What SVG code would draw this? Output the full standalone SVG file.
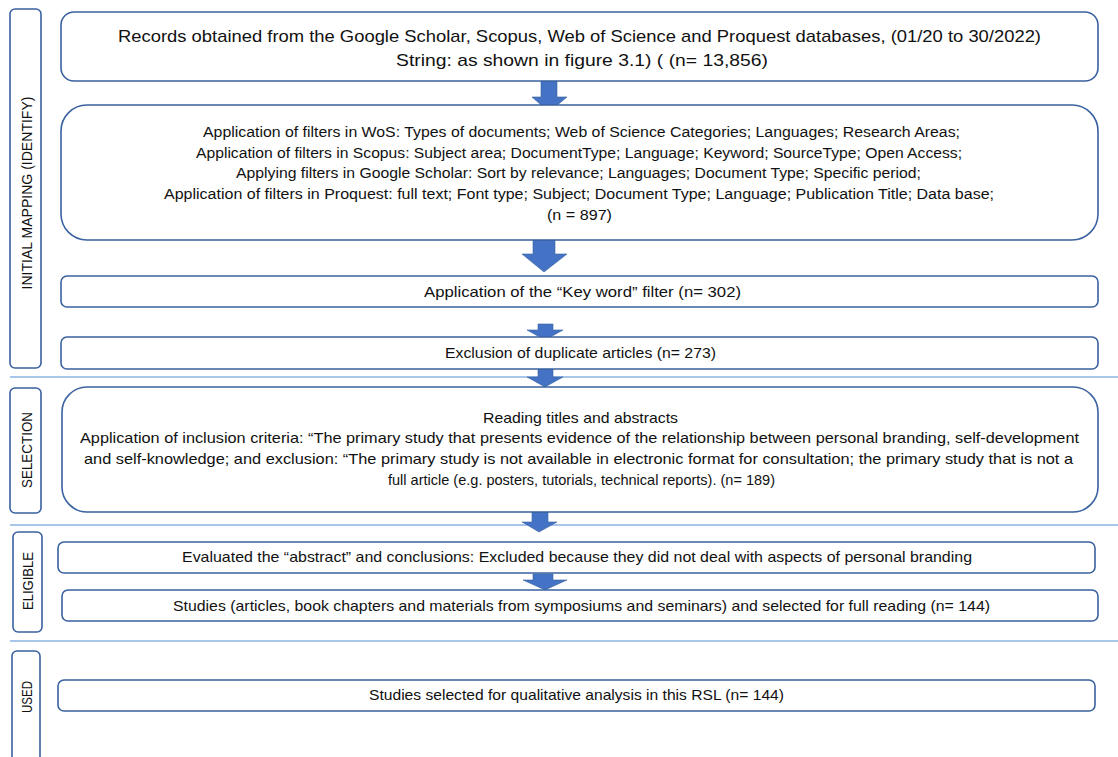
<svg xmlns="http://www.w3.org/2000/svg" width="1118" height="757" viewBox="0 0 1118 757">
<style>
.box{fill:#fff;stroke:#3A62A0;stroke-width:1.6}
.lab{fill:#fff;stroke:#3A62A0;stroke-width:1.6}
.sep{stroke:#8DB3E2;stroke-width:1.6}
.arr{fill:#4472C4;stroke:#3A62A0;stroke-width:0.6}
text{font-family:"Liberation Sans",Arial,sans-serif;fill:#111;text-anchor:middle}
.t1{font-size:17px}
.t2{font-size:13.8px}
.t3{font-size:14.2px}
.tl{font-size:15px}
</style>
<g id="separators">
<line class="sep" x1="10" y1="377" x2="1118" y2="377"/>
<line class="sep" x1="10" y1="525" x2="1118" y2="525"/>
<line class="sep" x1="10" y1="641" x2="1118" y2="641"/>
</g>
<g id="stage-initial">
<rect class="lab" x="10" y="9" width="31" height="359" rx="5"/>
<text class="tl" transform="translate(31.5,193) rotate(-90)" textLength="193" lengthAdjust="spacingAndGlyphs">INITIAL MAPPING (IDENTIFY)</text>
</g>
<g id="stage-selection">
<rect class="lab" x="10" y="388" width="31" height="125" rx="5"/>
<text class="tl" transform="translate(31.5,450) rotate(-90)" textLength="76" lengthAdjust="spacingAndGlyphs">SELECTION</text>
</g>
<g id="stage-eligible">
<rect class="lab" x="13" y="532" width="29" height="100" rx="5"/>
<text class="tl" transform="translate(33,581) rotate(-90)" textLength="58" lengthAdjust="spacingAndGlyphs">ELIGIBLE</text>
</g>
<g id="stage-used">
<rect class="lab" x="12" y="651" width="28" height="115" rx="5"/>
<text class="tl" transform="translate(32,697) rotate(-90)" textLength="32" lengthAdjust="spacingAndGlyphs">USED</text>
</g>
<g id="connectors">
<polygon class="arr" points="541,81 557,81 557,97 567,97 549,112 532,97 541,97"/>
<polygon class="arr" points="533,240 555,240 555,254 567,254 544,272 522,254 533,254"/>
<polygon class="arr" points="538,324 553,324 553,330 563,330 545,340 527,330 538,330"/>
<polygon class="arr" points="538,369 553,369 553,377 563,377 545,387 527,377 538,377"/>
<polygon class="arr" points="532,512 548,512 548,522 557,522 539,532 522,522 532,522"/>
<polygon class="arr" points="533,574 553,574 553,580 567,580 545,590 523,580 533,580"/>
</g>
<g id="node-records">
<rect class="box" x="61" y="12" width="1037" height="69" rx="13"/>
<text class="t1" x="579.5" y="42" textLength="923" lengthAdjust="spacingAndGlyphs">Records obtained from the Google Scholar, Scopus, Web of Science and Proquest databases, (01/20 to 30/2022)</text>
<text class="t1" x="582" y="66" textLength="372" lengthAdjust="spacingAndGlyphs">String: as shown in figure 3.1) ( (n= 13,856)</text>
</g>
<g id="node-filters">
<rect class="box" x="61" y="105" width="1037" height="135" rx="26"/>
<text class="t2" x="581.5" y="137" textLength="757" lengthAdjust="spacingAndGlyphs">Application of filters in WoS: Types of documents; Web of Science Categories;  Languages; Research Areas;</text>
<text class="t2" x="579" y="158" textLength="766" lengthAdjust="spacingAndGlyphs">Application of filters in Scopus: Subject area; DocumentType; Language; Keyword; SourceType; Open Access;</text>
<text class="t2" x="578.5" y="178" textLength="685" lengthAdjust="spacingAndGlyphs">Applying filters in Google Scholar: Sort by relevance; Languages; Document Type; Specific period;</text>
<text class="t2" x="579" y="199" textLength="830" lengthAdjust="spacingAndGlyphs">Application of filters in Proquest: full text; Font type; Subject; Document Type; Language; Publication Title; Data base;</text>
<text class="t2" x="579.5" y="220" textLength="65" lengthAdjust="spacingAndGlyphs">(n = 897)</text>
</g>
<g id="node-keyword">
<rect class="box" x="61" y="276" width="1037" height="31" rx="6"/>
<text class="t3" x="582.5" y="297" textLength="317" lengthAdjust="spacingAndGlyphs">Application of the “Key word” filter (n= 302)</text>
</g>
<g id="node-duplicates">
<rect class="box" x="61" y="337" width="1037" height="32" rx="6"/>
<text class="t3" x="580.5" y="358" textLength="271" lengthAdjust="spacingAndGlyphs">Exclusion of duplicate articles (n= 273)</text>
</g>
<g id="node-reading">
<rect class="box" x="62" y="387" width="1036" height="125" rx="25"/>
<text class="t3" x="580.5" y="423" textLength="195" lengthAdjust="spacingAndGlyphs">Reading titles and abstracts</text>
<text class="t3" x="579.5" y="443" textLength="999" lengthAdjust="spacingAndGlyphs">Application of inclusion criteria: “The primary study that presents evidence of the relationship between personal branding, self-development</text>
<text class="t3" x="578.5" y="464" textLength="989" lengthAdjust="spacingAndGlyphs">and self-knowledge;  and exclusion: “The primary study is not available in electronic format for consultation; the primary study that is not a</text>
<text class="t3" x="581.5" y="485" textLength="387" lengthAdjust="spacingAndGlyphs">full article (e.g. posters, tutorials, technical reports).  (n= 189)</text>
</g>
<g id="node-evaluated">
<rect class="box" x="58" y="542" width="1037" height="31" rx="6"/>
<text class="t3" x="577" y="562" textLength="790" lengthAdjust="spacingAndGlyphs">Evaluated the “abstract” and conclusions: Excluded because they did not deal with aspects of personal branding</text>
</g>
<g id="node-studies">
<rect class="box" x="62" y="590" width="1036" height="31" rx="6"/>
<text class="t3" x="581.5" y="611" textLength="817" lengthAdjust="spacingAndGlyphs">Studies (articles, book chapters and materials from symposiums and seminars) and selected for full reading (n= 144)</text>
</g>
<g id="node-used">
<rect class="box" x="58" y="680" width="1037" height="31" rx="6"/>
<text class="t3" x="576.5" y="700" textLength="415" lengthAdjust="spacingAndGlyphs">Studies selected for qualitative analysis in this RSL (n= 144)</text>
</g>
</svg>
